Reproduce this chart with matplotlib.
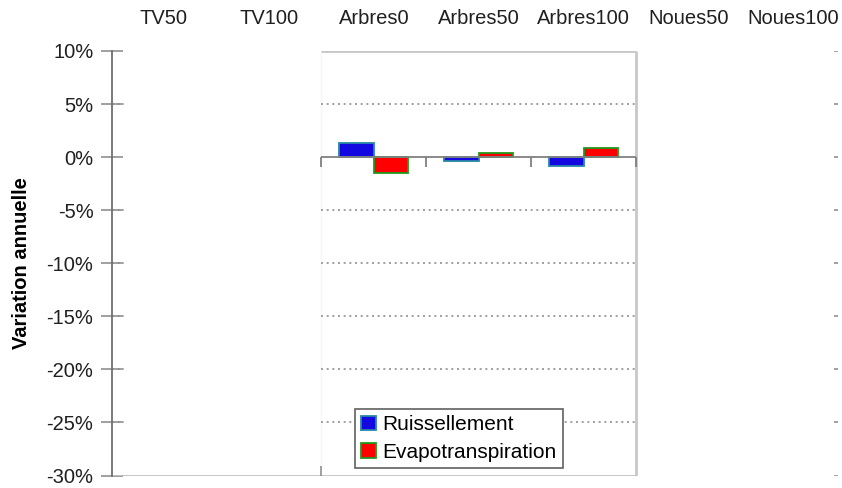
import numpy as np
import matplotlib
matplotlib.use("Agg")
import matplotlib.pyplot as plt
import matplotlib.lines as mlines

plt.rcParams['font.family'] = ['Liberation Sans', 'DejaVu Sans']

categories = ["TV50", "TV100", "Arbres0", "Arbres50", "Arbres100", "Noues50", "Noues100"]
ruissellement = [np.nan, np.nan, 1.3, -0.4, -0.85, np.nan, np.nan]
evapotranspiration = [np.nan, np.nan, -1.45, 0.4, 0.9, np.nan, np.nan]
yticks = [-30, -25, -20, -15, -10, -5, 0, 5, 10]
series_labels = ["Ruissellement", "Evapotranspiration"]

fig = plt.figure(figsize=(8.42, 4.88), dpi=100)
ax = fig.add_axes([111.5 / 842, 1 - 475.5 / 488, (846 - 111.5) / 842, (475.5 - 51) / 488])

x = np.arange(len(categories))
w = 0.33
ax.bar(x - w / 2, ruissellement, w, color="#1408e0", edgecolor="#2a86a6", linewidth=1.3,
       label=series_labels[0], zorder=3)
ax.bar(x + w / 2, evapotranspiration, w, color="#ff0000", edgecolor="#1f9a1f", linewidth=1.3,
       label=series_labels[1], zorder=3)

ax.set_xlim(-0.5, len(categories) - 0.5)
ax.set_ylim(yticks[0], yticks[-1])

# visible plot region (Arbres categories)
x0, x1 = 1.5, 4.5
left_edge = -0.5
grid_color = "#909090"
for yv in yticks[1:-1]:
    if yv == 0:
        continue
    ax.hlines(yv, x0, x1, colors=grid_color, linestyles=(0, (1.2, 2.2)), linewidth=1.2, zorder=1)
    ax.hlines(yv, left_edge, left_edge + 0.12, colors=grid_color, linestyles=(0, (1.2, 2.2)),
              linewidth=1.2, zorder=1)
    ax.hlines(yv, 6.385, 6.42, colors=grid_color, linewidth=1.2, zorder=1)
ax.hlines(0, 6.385, 6.42, colors=grid_color, linewidth=1.2, zorder=1)
ax.hlines(yticks[-1], 6.385, 6.42, colors=grid_color, linewidth=1.2, zorder=1)
ax.hlines(yticks[0], 6.385, 6.42, colors=grid_color, linewidth=1.2, zorder=1)

# zero line and category ticks
ax.hlines(0, x0, x1, colors="#808080", linewidth=1.3, zorder=4)
ax.plot([1.5, 2.5, 3.5, 4.5], [0, 0, 0, 0], linestyle="none", marker=mlines.TICKDOWN,
        markersize=7, markeredgewidth=1.3, color="#808080", zorder=4)
# frame pieces
ax.hlines(yticks[-1], x0, x1, colors="#c8c8c8", linewidth=2, zorder=2)
ax.vlines(x1, yticks[0], yticks[-1], colors="#c8c8c8", linewidth=2, zorder=2)
ax.vlines(x0, yticks[0], yticks[-1], colors="#f6f6f6", linewidth=1, zorder=0)
ax.hlines(yticks[0], left_edge, x1, colors="#c0c0c0", linewidth=2, zorder=2)
ax.plot([1.5], [yticks[0]], linestyle="none", marker=mlines.TICKUP, markersize=7,
        markeredgewidth=1.2, color="#909090", zorder=4)

for s in ["top", "right", "bottom"]:
    ax.spines[s].set_visible(False)
ax.spines["left"].set_color("#707070")
ax.spines["left"].set_linewidth(1.3)

ax.set_yticks(yticks)
ax.set_yticklabels([f"{v}%" for v in yticks], fontsize=14.5, color="#202020")
ax.tick_params(axis="y", direction="inout", length=16, width=1.2, color="#909090", pad=5)

ax.set_xticks(x)
ax.set_xticklabels(categories, fontsize=14.5, color="#202020")
ax.xaxis.tick_top()
ax.tick_params(axis="x", length=0, pad=16.5)

ax.set_ylabel("Variation annuelle", fontsize=14.5, fontweight="bold", labelpad=11)

leg = ax.legend(loc="lower left", bbox_to_anchor=(0.3315, 0.0177), borderaxespad=0,
                fontsize=15, frameon=True, fancybox=False, framealpha=1,
                edgecolor="#606060", handlelength=0.7, handleheight=0.7,
                handletextpad=0.3, labelspacing=0.4, borderpad=0.3)
leg.get_frame().set_linewidth(1.2)
leg.set_zorder(5)

fig.savefig("out.png", dpi=100)
